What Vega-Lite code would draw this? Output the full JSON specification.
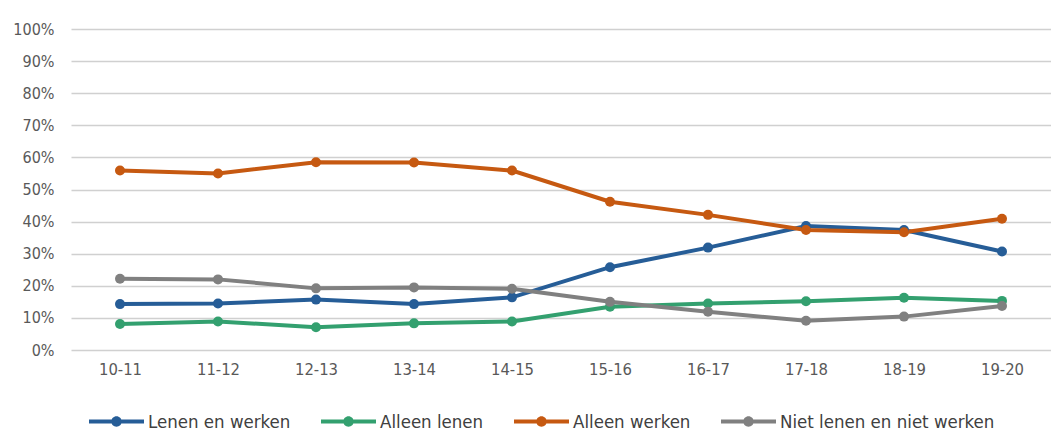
{
  "$schema": "https://vega.github.io/schema/vega-lite/v6.json",
  "width": 980,
  "height": 321,
  "autosize": {"type": "none"},
  "padding": {"left": 71, "top": 29, "right": 0, "bottom": 85},
  "background": "white",
  "config": {
    "font": "DejaVu Sans Condensed",
    "view": {"stroke": null},
    "axis": {"labelFont": "DejaVu Sans Condensed", "labelColor": "#595959"}
  },
  "data": {
    "values": [
      {"jaar": "10-11", "serie": "Lenen en werken", "v": 0.143},
      {"jaar": "11-12", "serie": "Lenen en werken", "v": 0.145},
      {"jaar": "12-13", "serie": "Lenen en werken", "v": 0.157},
      {"jaar": "13-14", "serie": "Lenen en werken", "v": 0.143},
      {"jaar": "14-15", "serie": "Lenen en werken", "v": 0.164},
      {"jaar": "15-16", "serie": "Lenen en werken", "v": 0.258},
      {"jaar": "16-17", "serie": "Lenen en werken", "v": 0.319},
      {"jaar": "17-18", "serie": "Lenen en werken", "v": 0.386},
      {"jaar": "18-19", "serie": "Lenen en werken", "v": 0.374},
      {"jaar": "19-20", "serie": "Lenen en werken", "v": 0.307},
      {"jaar": "10-11", "serie": "Alleen lenen", "v": 0.081},
      {"jaar": "11-12", "serie": "Alleen lenen", "v": 0.089},
      {"jaar": "12-13", "serie": "Alleen lenen", "v": 0.071},
      {"jaar": "13-14", "serie": "Alleen lenen", "v": 0.083},
      {"jaar": "14-15", "serie": "Alleen lenen", "v": 0.089},
      {"jaar": "15-16", "serie": "Alleen lenen", "v": 0.135},
      {"jaar": "16-17", "serie": "Alleen lenen", "v": 0.145},
      {"jaar": "17-18", "serie": "Alleen lenen", "v": 0.152},
      {"jaar": "18-19", "serie": "Alleen lenen", "v": 0.163},
      {"jaar": "19-20", "serie": "Alleen lenen", "v": 0.153},
      {"jaar": "10-11", "serie": "Alleen werken", "v": 0.559},
      {"jaar": "11-12", "serie": "Alleen werken", "v": 0.550},
      {"jaar": "12-13", "serie": "Alleen werken", "v": 0.585},
      {"jaar": "13-14", "serie": "Alleen werken", "v": 0.584},
      {"jaar": "14-15", "serie": "Alleen werken", "v": 0.559},
      {"jaar": "15-16", "serie": "Alleen werken", "v": 0.462},
      {"jaar": "16-17", "serie": "Alleen werken", "v": 0.421},
      {"jaar": "17-18", "serie": "Alleen werken", "v": 0.374},
      {"jaar": "18-19", "serie": "Alleen werken", "v": 0.367},
      {"jaar": "19-20", "serie": "Alleen werken", "v": 0.409},
      {"jaar": "10-11", "serie": "Niet lenen en niet werken", "v": 0.222},
      {"jaar": "11-12", "serie": "Niet lenen en niet werken", "v": 0.220},
      {"jaar": "12-13", "serie": "Niet lenen en niet werken", "v": 0.192},
      {"jaar": "13-14", "serie": "Niet lenen en niet werken", "v": 0.195},
      {"jaar": "14-15", "serie": "Niet lenen en niet werken", "v": 0.191},
      {"jaar": "15-16", "serie": "Niet lenen en niet werken", "v": 0.150},
      {"jaar": "16-17", "serie": "Niet lenen en niet werken", "v": 0.119},
      {"jaar": "17-18", "serie": "Niet lenen en niet werken", "v": 0.091},
      {"jaar": "18-19", "serie": "Niet lenen en niet werken", "v": 0.104},
      {"jaar": "19-20", "serie": "Niet lenen en niet werken", "v": 0.137}
    ]
  },
  "encoding": {
    "x": {
      "field": "jaar", "type": "ordinal",
      "scale": {"type": "point", "padding": 0.5},
      "axis": {"title": null, "labelAngle": 0, "labelFontSize": 16.5, "labelPadding": 11, "ticks": false, "domain": false, "grid": false}
    },
    "y": {
      "field": "v", "type": "quantitative",
      "scale": {"domain": [0, 1], "nice": false},
      "axis": {"title": null, "format": ".0%", "values": [0,0.1,0.2,0.3,0.4,0.5,0.6,0.7,0.8,0.9,1], "labelFontSize": 16, "labelPadding": 17, "ticks": false, "domain": false, "gridColor": "#d0d0d0", "gridWidth": 1.6}
    },
    "color": {
      "field": "serie", "type": "nominal",
      "scale": {
        "domain": ["Lenen en werken", "Alleen lenen", "Alleen werken", "Niet lenen en niet werken"],
        "range": ["#265D97", "#33A06F", "#C65911", "#808080"]
      },
      "legend": {
        "title": null,
        "orient": "none",
        "direction": "horizontal",
        "columns": 4,
        "legendX": 18,
        "legendY": 365,
        "padding": 0,
        "columnPadding": 30,
        "labelFontSize": 18.5,
        "labelColor": "#404040",
        "labelFont": "DejaVu Sans Condensed",
        "labelLimit": 400,
        "labelOffset": 4,
        "symbolSize": 3025,
        "symbolStrokeWidth": 0,
        "symbolType": "M-1,-0.075H-0.15V0.075H-1Z M0.15,-0.075H1V0.075H0.15Z M-0.19,0A0.19,0.19,0,1,1,0.19,0A0.19,0.19,0,1,1,-0.19,0Z"
      }
    }
  },
  "layer": [
    {"mark": {"type": "line", "strokeWidth": 4}},
    {"mark": {"type": "point", "filled": true, "size": 100, "opacity": 1}}
  ]
}
